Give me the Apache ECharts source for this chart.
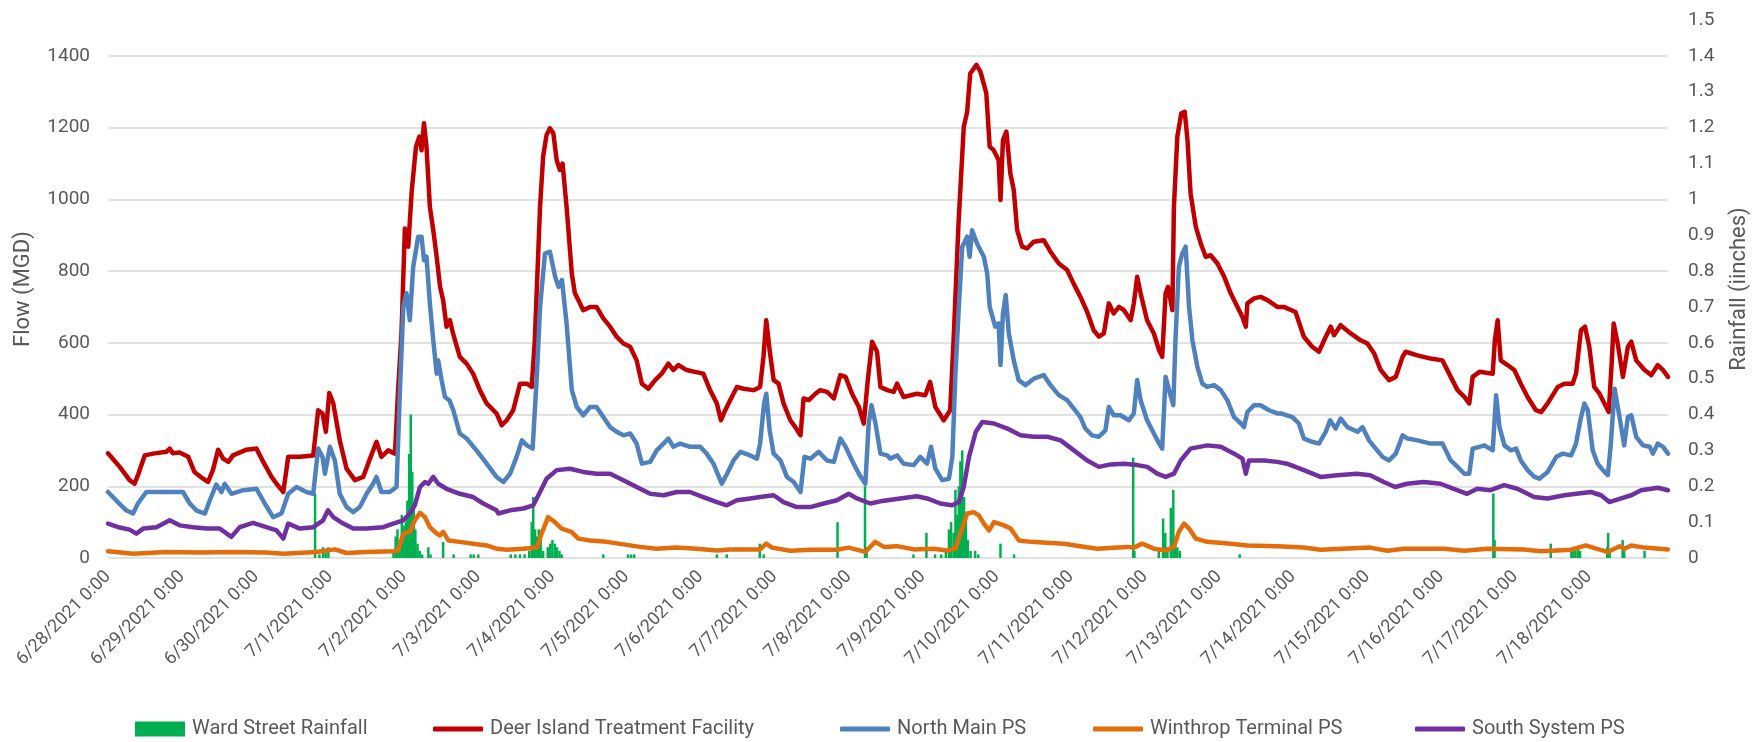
<!DOCTYPE html>
<html><head><meta charset="utf-8">
<script src="https://cdn.jsdelivr.net/npm/echarts@6/dist/echarts.min.js"></script>
<style>html,body{margin:0;padding:0;background:#fff}#c{width:1752px;height:742px}</style>
</head><body><div id="c"></div>
<script>
// x values are hours after 6/28/2021 0:00
const dayLabels = ['6/28/2021 0:00','6/29/2021 0:00','6/30/2021 0:00','7/1/2021 0:00','7/2/2021 0:00','7/3/2021 0:00','7/4/2021 0:00','7/5/2021 0:00','7/6/2021 0:00','7/7/2021 0:00','7/8/2021 0:00','7/9/2021 0:00','7/10/2021 0:00','7/11/2021 0:00','7/12/2021 0:00','7/13/2021 0:00','7/14/2021 0:00','7/15/2021 0:00','7/16/2021 0:00','7/17/2021 0:00','7/18/2021 0:00'];
const flowTicks = [0,200,400,600,800,1000,1200,1400];

const wardRain = [[67.1,0.18],[68.5,0.01],[69.7,0.03],[70.5,0.02],[71.4,0.03],
[92.5,0.02],[93.2,0.06],[93.8,0.08],[94.5,0.05],[95.2,0.12],[95.8,0.09],[96.5,0.10],[97,0.16],[97.6,0.29],[98.1,0.40],[98.6,0.24],[99.1,0.14],[99.6,0.08],[100.3,0.04],[101,0.02],[101.8,0.01],[103.8,0.03],[104.5,0.01],[108.6,0.045],[112,0.01],[117.5,0.01],[118.5,0.01],[120,0.01],
[130.5,0.01],[132,0.01],[133.5,0.01],[135,0.01],[136.5,0.02],[137.3,0.10],[137.8,0.17],[138.4,0.08],[139,0.06],[139.6,0.08],[140.2,0.05],[141,0.02],[142.5,0.03],[143.3,0.04],[144,0.05],[144.8,0.04],[145.5,0.03],[146.3,0.02],[147,0.01],
[160.5,0.01],[168.5,0.01],[169.5,0.01],[170.5,0.01],[197.3,0.01],[200.5,0.01],[211.2,0.04],[212.5,0.01],[236.4,0.10],[245.3,0.20],[245.8,0.03],
[261,0.01],[265.2,0.07],[268,0.01],[270,0.01],[271.5,0.02],[272.5,0.08],[273.2,0.10],[274,0.07],[274.6,0.19],[275.2,0.12],[275.7,0.20],[276.2,0.27],[276.8,0.30],[277.4,0.17],[278,0.12],[278.6,0.05],[279.5,0.02],[281,0.02],[282,0.01],[289.2,0.04],[293.6,0.01],
[332.2,0.28],[332.6,0.02],[340.5,0.02],[341.9,0.11],[342.6,0.07],[343.3,0.03],[344.4,0.14],[345.2,0.19],[345.8,0.05],[346.5,0.03],[347.3,0.02],[366.7,0.01],
[448.9,0.18],[449.3,0.05],[467.5,0.04],[474.2,0.02],[474.8,0.03],[475.5,0.02],[476.3,0.03],[477,0.02],[485.8,0.03],[486.1,0.07],[486.6,0.02],[490.8,0.05],[491.3,0.02],[497.9,0.02]];

const deerIsland = [[0,292],[3.8,254],[7,217],[8.6,207],[9.7,231],[11.9,286],[14.6,291],[18.9,296],[20,305],[21,292],[23.2,294],[26,282],[28,240],[30.8,221],[32.4,212],[34,245],[35.7,302],[37.3,277],[39,268],[40.5,286],[44.9,302],[48.1,305],[50.3,268],[53,226],[54.6,207],[56.8,184],[58.4,282],[62.2,282],[66.5,286],[68.1,412],[69.5,403],[70.6,352],[71.7,460],[73,431],[75.1,328],[77.3,249],[80,217],[82.7,226],[84.9,277],[87,324],[88.6,282],[90.8,300],[93,291],[94,468],[95.1,626],[96.2,919],[97.3,868],[98.4,1021],[99.8,1147],[100.9,1175],[101.6,1137],[102.4,1212],[103.2,1147],[104.3,979],[105.4,914],[106.5,840],[107.6,756],[108.6,719],[109.7,645],[110.8,663],[111.8,626],[114,561],[116.2,542],[118.3,514],[120.5,468],[122.7,431],[125.9,403],[127.6,370],[129.2,384],[131.3,412],[133.5,486],[135.7,486],[137.3,477],[138.3,607],[140,979],[141,1119],[142.1,1179],[143.2,1198],[144.3,1184],[145.4,1109],[146.4,1082],[147.3,1100],[148.6,979],[150.3,793],[151.3,738],[152.4,719],[154,691],[156.2,700],[158.3,700],[160.5,668],[162.7,645],[164.8,617],[167,598],[169.2,589],[171.3,551],[173,486],[175.1,472],[177.3,496],[179.4,514],[181.6,542],[183.2,524],[184.8,538],[187.5,524],[190.2,519],[192.9,514],[195.1,468],[197.3,431],[198.6,384],[200,412],[201.6,440],[203.8,477],[205.9,472],[209.2,468],[211.3,477],[212.4,561],[213.3,663],[214.4,579],[215.7,496],[217.3,486],[218.9,431],[221.1,384],[222.7,365],[224.4,342],[225.4,445],[227.1,440],[229.2,458],[230.8,468],[233,463],[235.2,445],[237.3,510],[239,505],[241.1,458],[243.3,421],[244.9,375],[246.2,496],[247.6,603],[249.2,575],[250.3,477],[252.5,468],[254.6,463],[255.7,486],[257.8,449],[262.1,458],[264.8,454],[266.4,491],[268.1,421],[270.8,384],[272.9,412],[274,607],[275.6,933],[277.3,1202],[278.4,1244],[279.4,1351],[281.4,1375],[282.7,1356],[284.6,1296],[285.7,1147],[287,1137],[288.6,1109],[289.2,998],[290,1165],[291.1,1189],[292.4,1072],[293.5,1026],[294.6,914],[296.2,868],[297.8,863],[300,882],[303.2,886],[305.4,854],[308.1,821],[310.8,803],[312.9,765],[315.1,728],[317.3,686],[319.4,635],[321.1,617],[322.7,626],[324.3,710],[325.9,682],[327.6,700],[329.2,691],[331.4,663],[332.4,710],[333.5,784],[334.6,738],[336.7,663],[338.9,626],[340.6,579],[341.6,561],[342.7,738],[343.5,756],[344.9,691],[345.4,979],[346.5,1175],[347.8,1240],[348.9,1244],[349.8,1165],[350.8,1016],[352.5,923],[354.1,877],[355.7,840],[357.3,844],[359.5,821],[361.7,784],[363.8,738],[366,700],[367.6,672],[368.7,645],[369.2,710],[371.4,724],[373.5,728],[375.7,719],[378.9,700],[381,700],[384.8,686],[387.5,617],[390.2,589],[392.4,575],[394.6,617],[396.2,645],[397.3,621],[399.4,649],[402.7,626],[405.9,607],[408.1,598],[410.3,570],[412.4,524],[415.1,496],[417.3,505],[419.5,561],[420.5,575],[424.3,565],[428.6,556],[432.4,551],[435.1,505],[437.3,468],[439.5,449],[441.1,431],[442.2,505],[444.4,519],[448.7,514],[449.4,607],[450.3,663],[451.3,551],[453.5,538],[455.7,524],[457.8,486],[460,449],[462.7,412],[464.4,407],[466.5,431],[469.8,477],[471.9,486],[474.6,486],[475.7,514],[477.3,635],[478.6,645],[480,589],[481.6,477],[483.3,458],[484.9,431],[486.3,407],[487.3,551],[487.9,654],[489.2,598],[490.9,505],[492.5,589],[493.6,603],[495.2,551],[497.9,524],[500.1,510],[502.2,538],[503.9,524],[505.5,505]];

const northMain = [[0,184],[3.2,156],[5.9,133],[8.1,124],[9.7,152],[12.4,184],[16.8,184],[21.1,184],[24.3,184],[26.5,152],[28.6,133],[31.4,124],[33,161],[35.1,205],[36.8,184],[37.8,207],[40,179],[43.8,189],[48.1,193],[50.8,152],[53.5,114],[56.2,124],[58.4,179],[61.1,198],[64.3,184],[66.5,179],[68.1,305],[69.5,282],[70.3,235],[71.9,310],[73.5,272],[75.1,179],[77.3,142],[79.5,128],[81.6,142],[83.8,179],[85.9,207],[87,226],[88.6,184],[91.3,184],[93.5,198],[94.6,468],[95.7,700],[96.7,738],[97.8,663],[98.9,812],[100.5,896],[101.6,896],[102.4,830],[103.2,840],[104.3,710],[105.4,607],[106.5,514],[107,551],[108.1,496],[109.2,449],[110.6,440],[111.9,412],[114,347],[116.2,333],[119.4,300],[122.7,263],[125.9,226],[128.1,212],[130.3,235],[132.4,282],[134.1,328],[135.7,314],[137.6,305],[139,514],[140,700],[141.6,849],[143.2,854],[144.9,784],[146,756],[147.1,775],[148.6,654],[150.3,468],[151.9,421],[154,398],[156.2,421],[158.3,421],[160.5,393],[162.7,365],[164.8,352],[167,342],[169.2,347],[171.3,319],[173,263],[175.7,268],[177.8,300],[180,319],[181.6,333],[183.2,310],[185.4,319],[188.6,310],[191.9,310],[194,291],[196.2,263],[198.4,217],[198.9,207],[200.6,235],[202.7,272],[204.9,296],[208.1,286],[210.3,277],[211.3,319],[212.6,431],[213.3,458],[214.4,356],[215.7,291],[217.9,272],[220,226],[222.2,212],[224.4,184],[225.7,282],[227.6,277],[230.3,296],[233,272],[235.2,268],[237.3,333],[239,310],[241.1,272],[243.3,235],[245.4,207],[246.5,375],[247.4,426],[248.7,375],[250.3,291],[252.5,286],[253.5,277],[255.7,286],[257.8,263],[261.1,259],[263.2,282],[265.4,263],[266.7,310],[268.1,249],[270.3,217],[272.5,221],[273.6,282],[274.6,514],[275.7,700],[276.8,868],[278.4,896],[279.2,840],[280,914],[281.6,877],[283.8,840],[284.9,793],[285.7,700],[287.5,645],[288.6,654],[289.2,538],[290,682],[290.9,733],[291.9,626],[293.5,551],[295.1,496],[297.3,482],[300,500],[303.2,510],[305.4,482],[308.1,454],[310.8,440],[312.9,417],[315.1,393],[316.7,361],[318.9,342],[321.1,338],[323.2,356],[324.3,421],[325.9,398],[328.1,398],[330.8,384],[332.4,403],[333.5,496],[334.6,440],[336.7,384],[338.9,347],[340.6,319],[341.6,305],[342.7,505],[343.8,468],[345.2,426],[345.9,607],[347,812],[348.1,849],[349.2,868],[350.3,700],[351.4,607],[353,533],[354.6,486],[356.2,477],[358.4,482],[360.6,468],[362.7,440],[364.9,393],[367.1,375],[368.1,365],[369.2,407],[371.4,426],[373.5,426],[376.2,412],[378.9,403],[380,403],[383.8,393],[385.9,375],[387.5,333],[390.2,324],[392.4,319],[394.6,352],[396,384],[397.8,361],[399.4,389],[401.6,365],[404.9,352],[406.5,365],[408.6,328],[410.8,305],[413,282],[415.1,272],[417.3,291],[419.5,342],[421.1,333],[424.3,328],[428.6,319],[432.4,319],[435.1,272],[437.3,254],[439.5,235],[441.1,235],[442.2,305],[444.4,310],[446,314],[448.7,300],[449.8,454],[450.9,365],[452.5,314],[454.6,300],[456.3,305],[457.8,272],[460,245],[462.2,226],[463.8,221],[466.5,240],[469.3,282],[471.4,291],[474.1,286],[475.7,319],[477.1,384],[478.4,431],[479.5,412],[481.1,300],[482.7,263],[484.4,245],[486,231],[486.9,310],[488.2,472],[489.8,393],[491.3,314],[492.5,393],[493.6,398],[495.2,338],[497.4,314],[499.6,310],[500.6,291],[502.2,319],[503.9,310],[505.5,291]];

const winthrop = [[0,19],[8.1,12],[18.9,17],[29.7,15],[40.5,17],[51.3,15],[56.8,12],[67.6,17],[73.5,24],[77.3,14],[83.8,17],[92.4,19],[94,21],[95.7,68],[97.8,73],[99.4,105],[101.1,126],[102.7,114],[104.3,86],[106.5,68],[107.6,63],[108.6,73],[110.3,49],[114,45],[118.3,40],[122.7,35],[125.9,26],[129.2,23],[134.6,26],[139,29],[140.5,68],[142.6,114],[144.8,100],[147,82],[150.2,73],[152.4,54],[156.2,49],[161.6,45],[167,38],[172.4,31],[177.8,26],[184.3,29],[190.8,26],[197.3,21],[201.6,24],[211.3,24],[213.3,40],[215.2,29],[221.1,20],[227.6,23],[236.2,23],[240,29],[245.4,17],[248.6,45],[251.4,31],[255.7,33],[261.1,24],[267.5,26],[271.9,21],[274.6,26],[276.2,68],[278.4,124],[280.5,128],[282.2,119],[283.8,96],[285.5,77],[287.1,100],[290.3,91],[292.5,82],[295.2,49],[299,45],[309.7,40],[320.5,26],[330.2,31],[332.4,29],[335.1,40],[338.9,26],[342.7,21],[345.4,31],[347,73],[348.7,96],[350.3,82],[352.5,54],[356.2,45],[363.8,40],[369.2,35],[378.9,33],[387.5,29],[392.9,23],[409,29],[414.5,20],[419.9,26],[432.9,26],[439.5,20],[447,26],[458.9,24],[464.4,19],[474.1,23],[478.9,35],[482.2,26],[486,17],[489.8,33],[491.4,26],[493.6,35],[497.9,29],[505.5,24]];

const southSystem = [[0,96],[3.8,85],[7,79],[9.2,68],[11.4,82],[15.7,86],[20,105],[23.2,91],[27.6,86],[31.9,82],[36.2,82],[40,59],[42.7,86],[47,98],[51.3,86],[54.6,77],[56.8,54],[58.4,96],[62.2,82],[66.5,86],[69.7,105],[71.3,133],[73,114],[76.2,96],[79.5,82],[83.8,82],[89.2,86],[92.4,96],[95.7,105],[97.8,124],[99.4,147],[101.1,198],[102.7,212],[103.8,207],[105.4,226],[107,207],[109.7,193],[114,179],[118.3,170],[121.6,152],[125.9,133],[126.5,124],[130.3,133],[134.6,138],[137.8,147],[140,184],[142.1,221],[145.4,245],[149.7,249],[154,240],[158.3,235],[162.7,235],[167,217],[171.3,198],[175.7,179],[180,175],[184.3,184],[188.6,184],[192.9,170],[197.3,156],[200.5,147],[203.8,161],[208.1,166],[211.3,170],[215.7,175],[218.9,156],[223.2,142],[227.6,142],[231.9,152],[236.2,161],[240,179],[242.7,166],[247,152],[250.3,158],[256.7,166],[262.1,172],[265.4,166],[269.7,152],[273.5,147],[275.7,156],[277.3,198],[279,282],[281.2,352],[283.3,379],[287.1,375],[291.4,361],[295.7,342],[300,338],[304.4,338],[308.7,328],[313,300],[317.3,272],[321.1,254],[324.9,261],[329.2,263],[333.5,259],[336.8,254],[340,235],[342.7,226],[345.4,235],[347.6,272],[350.8,305],[356.2,314],[360.6,310],[364.9,291],[367.6,277],[368.7,235],[369.7,272],[374.6,272],[378.9,268],[382,263],[387.5,245],[392.9,226],[398.3,231],[404.7,235],[409,231],[413.4,212],[417.1,198],[420.9,207],[426.3,212],[431.8,207],[436.1,193],[440.4,179],[443.7,193],[448,189],[452.4,203],[456.7,193],[462.1,170],[466.5,166],[471.9,175],[480.5,184],[483.8,175],[486.5,156],[490.3,166],[493.6,175],[496.8,189],[502.2,196],[505.5,189]];

const gray = '#595959';
const font = 'Roboto, "Noto Sans", sans-serif';
const chart = echarts.init(document.getElementById('c'), null, {renderer:'canvas'});
function lineSeries(name, data, color){
  return {name, type:'line', data, symbol:'none', showSymbol:false, smooth:false,
    lineStyle:{width:4.5, color, cap:'round', join:'round'}, itemStyle:{color}, animation:false};
}
function leg(name, left, icon, h){
  return {data:[{name, icon}], left, top:714, itemWidth:50, itemHeight:h, itemGap:0,
    textStyle:{color:gray, fontSize:20, fontFamily:font, padding:[0,0,0,2]}, selectedMode:false};
}
chart.setOption({
  animation:false,
  backgroundColor:'#fff',
  textStyle:{fontFamily:font},
  grid:{left:108, right:84, top:20, bottom:184, containLabel:false, outerBoundsMode:'none'},
  legend:[
    leg('Ward Street Rainfall',130,'rect',15),
    leg('Deer Island Treatment Facility',428,'roundRect',5),
    leg('North Main PS',835,'roundRect',5),
    leg('Winthrop Terminal PS',1088,'roundRect',5),
    leg('South System PS',1410,'roundRect',5)
  ],
  xAxis:{type:'value', min:0, max:505.5, interval:24,
    axisLine:{show:false}, axisTick:{show:false}, splitLine:{show:false},
    axisLabel:{rotate:45, margin:16, color:gray, fontSize:18, fontFamily:font,
      showMaxLabel:false,
      formatter:function(v){ const i=Math.round(v/24); return (Math.abs(v-i*24)<1e-6 && i<dayLabels.length)? dayLabels[i] : ''; }}
  },
  yAxis:[
    {type:'value', min:0, max:1500, interval:200, name:'Flow (MGD)', nameLocation:'middle', nameGap:74,
      nameTextStyle:{color:gray, fontSize:22, fontFamily:font},
      axisLine:{show:false}, axisTick:{show:false},
      axisLabel:{color:gray, fontSize:19, margin:18, showMaxLabel:false,
        formatter:function(v){ return flowTicks.indexOf(v)>=0 ? String(v) : ''; }},
      splitLine:{show:true, showMaxLine:false, lineStyle:{color:['#d9d9d9','#d9d9d9','#d9d9d9','#d9d9d9','#d9d9d9','#d9d9d9','#d9d9d9','#d9d9d9','rgba(0,0,0,0)'], width:1.5}}
    },
    {type:'value', min:0, max:1.5, interval:0.1, name:'Rainfall (iinches)', nameLocation:'middle', nameGap:60,
      nameTextStyle:{color:gray, fontSize:22, fontFamily:font},
      axisLine:{show:false}, axisTick:{show:false}, splitLine:{show:false},
      axisLabel:{color:gray, fontSize:19, margin:20,
        formatter:function(v){ return String(Math.round(v*10)/10); }}
    }
  ],
  series:[
    {name:'Ward Street Rainfall', type:'bar', yAxisIndex:1, data:wardRain, barWidth:2.5, barGap:'-100%',
      itemStyle:{color:'#00B050'}, animation:false},
    lineSeries('Deer Island Treatment Facility', deerIsland, '#C00000'),
    lineSeries('North Main PS', northMain, '#4F81BD'),
    lineSeries('Winthrop Terminal PS', winthrop, '#E46C0A'),
    lineSeries('South System PS', southSystem, '#7030A0')
  ]
});
</script></body></html>
